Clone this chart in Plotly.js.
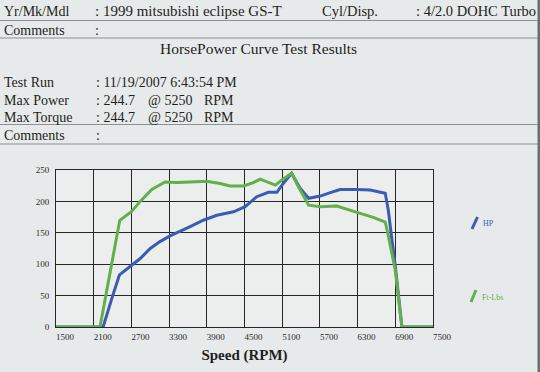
<!DOCTYPE html>
<html>
<head>
<meta charset="utf-8">
<script src="https://cdn.plot.ly/plotly-3.0.1.min.js"></script>
<style>
html,body{margin:0;padding:0;background:#e7eaea;}
#chart{width:540px;height:372px;}
</style>
</head>
<body>
<div id="chart"></div>
<script>
// ---- Data read from the dyno sheet ----
const hpRpm = [1500, 2250, 2390, 2510, 2700, 2840, 3000, 3155, 3315, 3475, 3635, 3845, 4060, 4325, 4510, 4695, 4880, 5015, 5120, 5250, 5385, 5520, 5705, 5865, 6020, 6290, 6500, 6740, 6790, 6830, 6900, 7005, 7500];
const hpVals = [0, 0, 46, 83, 98, 109, 125, 136, 145, 152, 160, 170, 178, 183.5, 191.5, 207.5, 214.5, 214.5, 229, 244.7, 221, 205, 208.5, 214, 219, 219, 218, 213, 185, 152, 97, 0, 0];

const tqRpm = [1500, 2200, 2515, 2705, 2840, 3025, 3235, 3420, 3635, 3900, 4110, 4270, 4485, 4640, 4750, 4880, 4990, 5095, 5250, 5360, 5520, 5705, 5970, 6290, 6550, 6740, 6775, 6900, 7005, 7500];
const tqVals = [0, 0, 170, 184, 200, 219, 231, 230, 231, 232, 228.5, 224.5, 224.5, 230, 235.5, 230, 226, 234, 244.7, 223, 194, 191.5, 192.5, 182.5, 174.5, 167, 152, 90, 0, 0];

const xTicks = [1500, 2100, 2700, 3300, 3900, 4500, 5100, 5700, 6300, 6900, 7500];
const yTicks = [0, 50, 100, 150, 200, 250];

const seriesNames = ['HP', 'Ft-Lbs'];

const headerRows = [
  {label: 'Yr/Mk/Mdl', value: ': 1999 mitsubishi eclipse GS-T', label2: 'Cyl/Disp.', value2: ': 4/2.0 DOHC Turbo'},
  {label: 'Comments', value: ':'}
];
const chartTitle = 'HorsePower Curve Test Results';
const testRows = [
  ['Test Run', ': 11/19/2007 6:43:54 PM', '', ''],
  ['Max Power', ': 244.7', '@ 5250', 'RPM'],
  ['Max Torque', ': 244.7', '@ 5250', 'RPM']
];
const xTitle = 'Speed (RPM)';

// ---- layout helpers (pixel -> paper) ----
const L = 56, R = 433, T = 170, B = 327;
const px = x => (x - L) / (R - L);
const py = y => (B - y) / (B - T);
const SERIF = '"Liberation Serif", "Times New Roman", serif';
const TXT = '#1e1f20';
const blue = '#3a5cb2';
const green = '#62b04c';

const anns = [];
function ann(text, x, y, size, color, anchor, weight) {
  anns.push({text: text, xref: 'paper', yref: 'paper', x: px(x), y: py(y),
    xanchor: anchor || 'left', yanchor: 'middle', showarrow: false,
    font: {family: SERIF, size: size, color: color || TXT, weight: weight || 'normal'}, borderpad: 0});
}
// header
ann(headerRows[0].label, 3, 11, 14);
ann(headerRows[0].value, 94, 11, 15);
ann(headerRows[0].label2, 321, 11, 14.5);
ann(headerRows[0].value2, 415, 11, 14.5);
ann(headerRows[1].label, 3, 30, 14);
ann(headerRows[1].value, 94, 30, 14);
ann(chartTitle, 258, 49, 15.5, TXT, 'center');
const rowY = [83, 100, 117];
testRows.forEach((r, i) => {
  ann(r[0], 3, rowY[i], 14);
  ann(r[1], 95, rowY[i], 14);
  if (r[2]) ann(r[2], 147, rowY[i], 14);
  if (r[3]) ann(r[3], 203, rowY[i], 14);
});
ann('Comments', 3, 135, 14);
ann(':', 95, 135, 14);
// legend labels
ann(seriesNames[0], 482, 223, 8, blue);
ann(seriesNames[1], 481, 297, 8, green);

const shapes = [];
function hline(y) {
  shapes.push({type: 'line', xref: 'paper', yref: 'paper', x0: px(0), x1: px(540), y0: py(y), y1: py(y),
    line: {color: '#8d9090', width: 1}});
}
[20.5, 38, 124.5, 144].forEach(hline);
// legend marks
shapes.push({type: 'line', xref: 'paper', yref: 'paper', x0: px(472), y0: py(229), x1: px(477.5), y1: py(217), line: {color: blue, width: 3}});
shapes.push({type: 'line', xref: 'paper', yref: 'paper', x0: px(471), y0: py(302), x1: px(476), y1: py(290), line: {color: green, width: 3}});
// dark right edge of the sheet
shapes.push({type: 'rect', xref: 'paper', yref: 'paper', x0: px(537.5), x1: px(541), y0: py(0), y1: py(372), line: {width: 0}, fillcolor: '#6b6e6e'});

const traces = [
  {x: hpRpm, y: hpVals, name: seriesNames[0], type: 'scatter', mode: 'lines', line: {color: blue, width: 3}},
  {x: tqRpm, y: tqVals, name: seriesNames[1], type: 'scatter', mode: 'lines', line: {color: green, width: 3}}
];

const layout = {
  width: 540, height: 372,
  margin: {l: L, r: 540 - R, t: T, b: 372 - B, pad: 0},
  paper_bgcolor: '#e7eaea',
  plot_bgcolor: '#eceeed',
  showlegend: false,
  xaxis: {
    range: [1500, 7500], tickvals: xTicks, ticktext: xTicks.map(String),
    showgrid: true, gridcolor: '#262626', gridwidth: 1,
    showline: true, mirror: true, linecolor: '#262626', linewidth: 1,
    zeroline: false, ticks: '', ticklabelshift: 9, ticklabelstandoff: 1,
    tickfont: {family: SERIF, size: 9, color: '#2a2a2a'},
    title: {text: xTitle, standoff: 8, font: {family: SERIF, size: 15, color: TXT, weight: 'bold'}}
  },
  yaxis: {
    range: [0, 250], tickvals: yTicks, ticktext: yTicks.map(String),
    showgrid: true, gridcolor: '#262626', gridwidth: 1,
    showline: true, mirror: true, linecolor: '#262626', linewidth: 1,
    zeroline: false, ticks: '', ticklabelstandoff: 4,
    tickfont: {family: SERIF, size: 9, color: '#2a2a2a'}
  },
  annotations: anns,
  shapes: shapes
};

Plotly.newPlot('chart', traces, layout, {displayModeBar: false, staticPlot: true});
</script>
</body>
</html>
